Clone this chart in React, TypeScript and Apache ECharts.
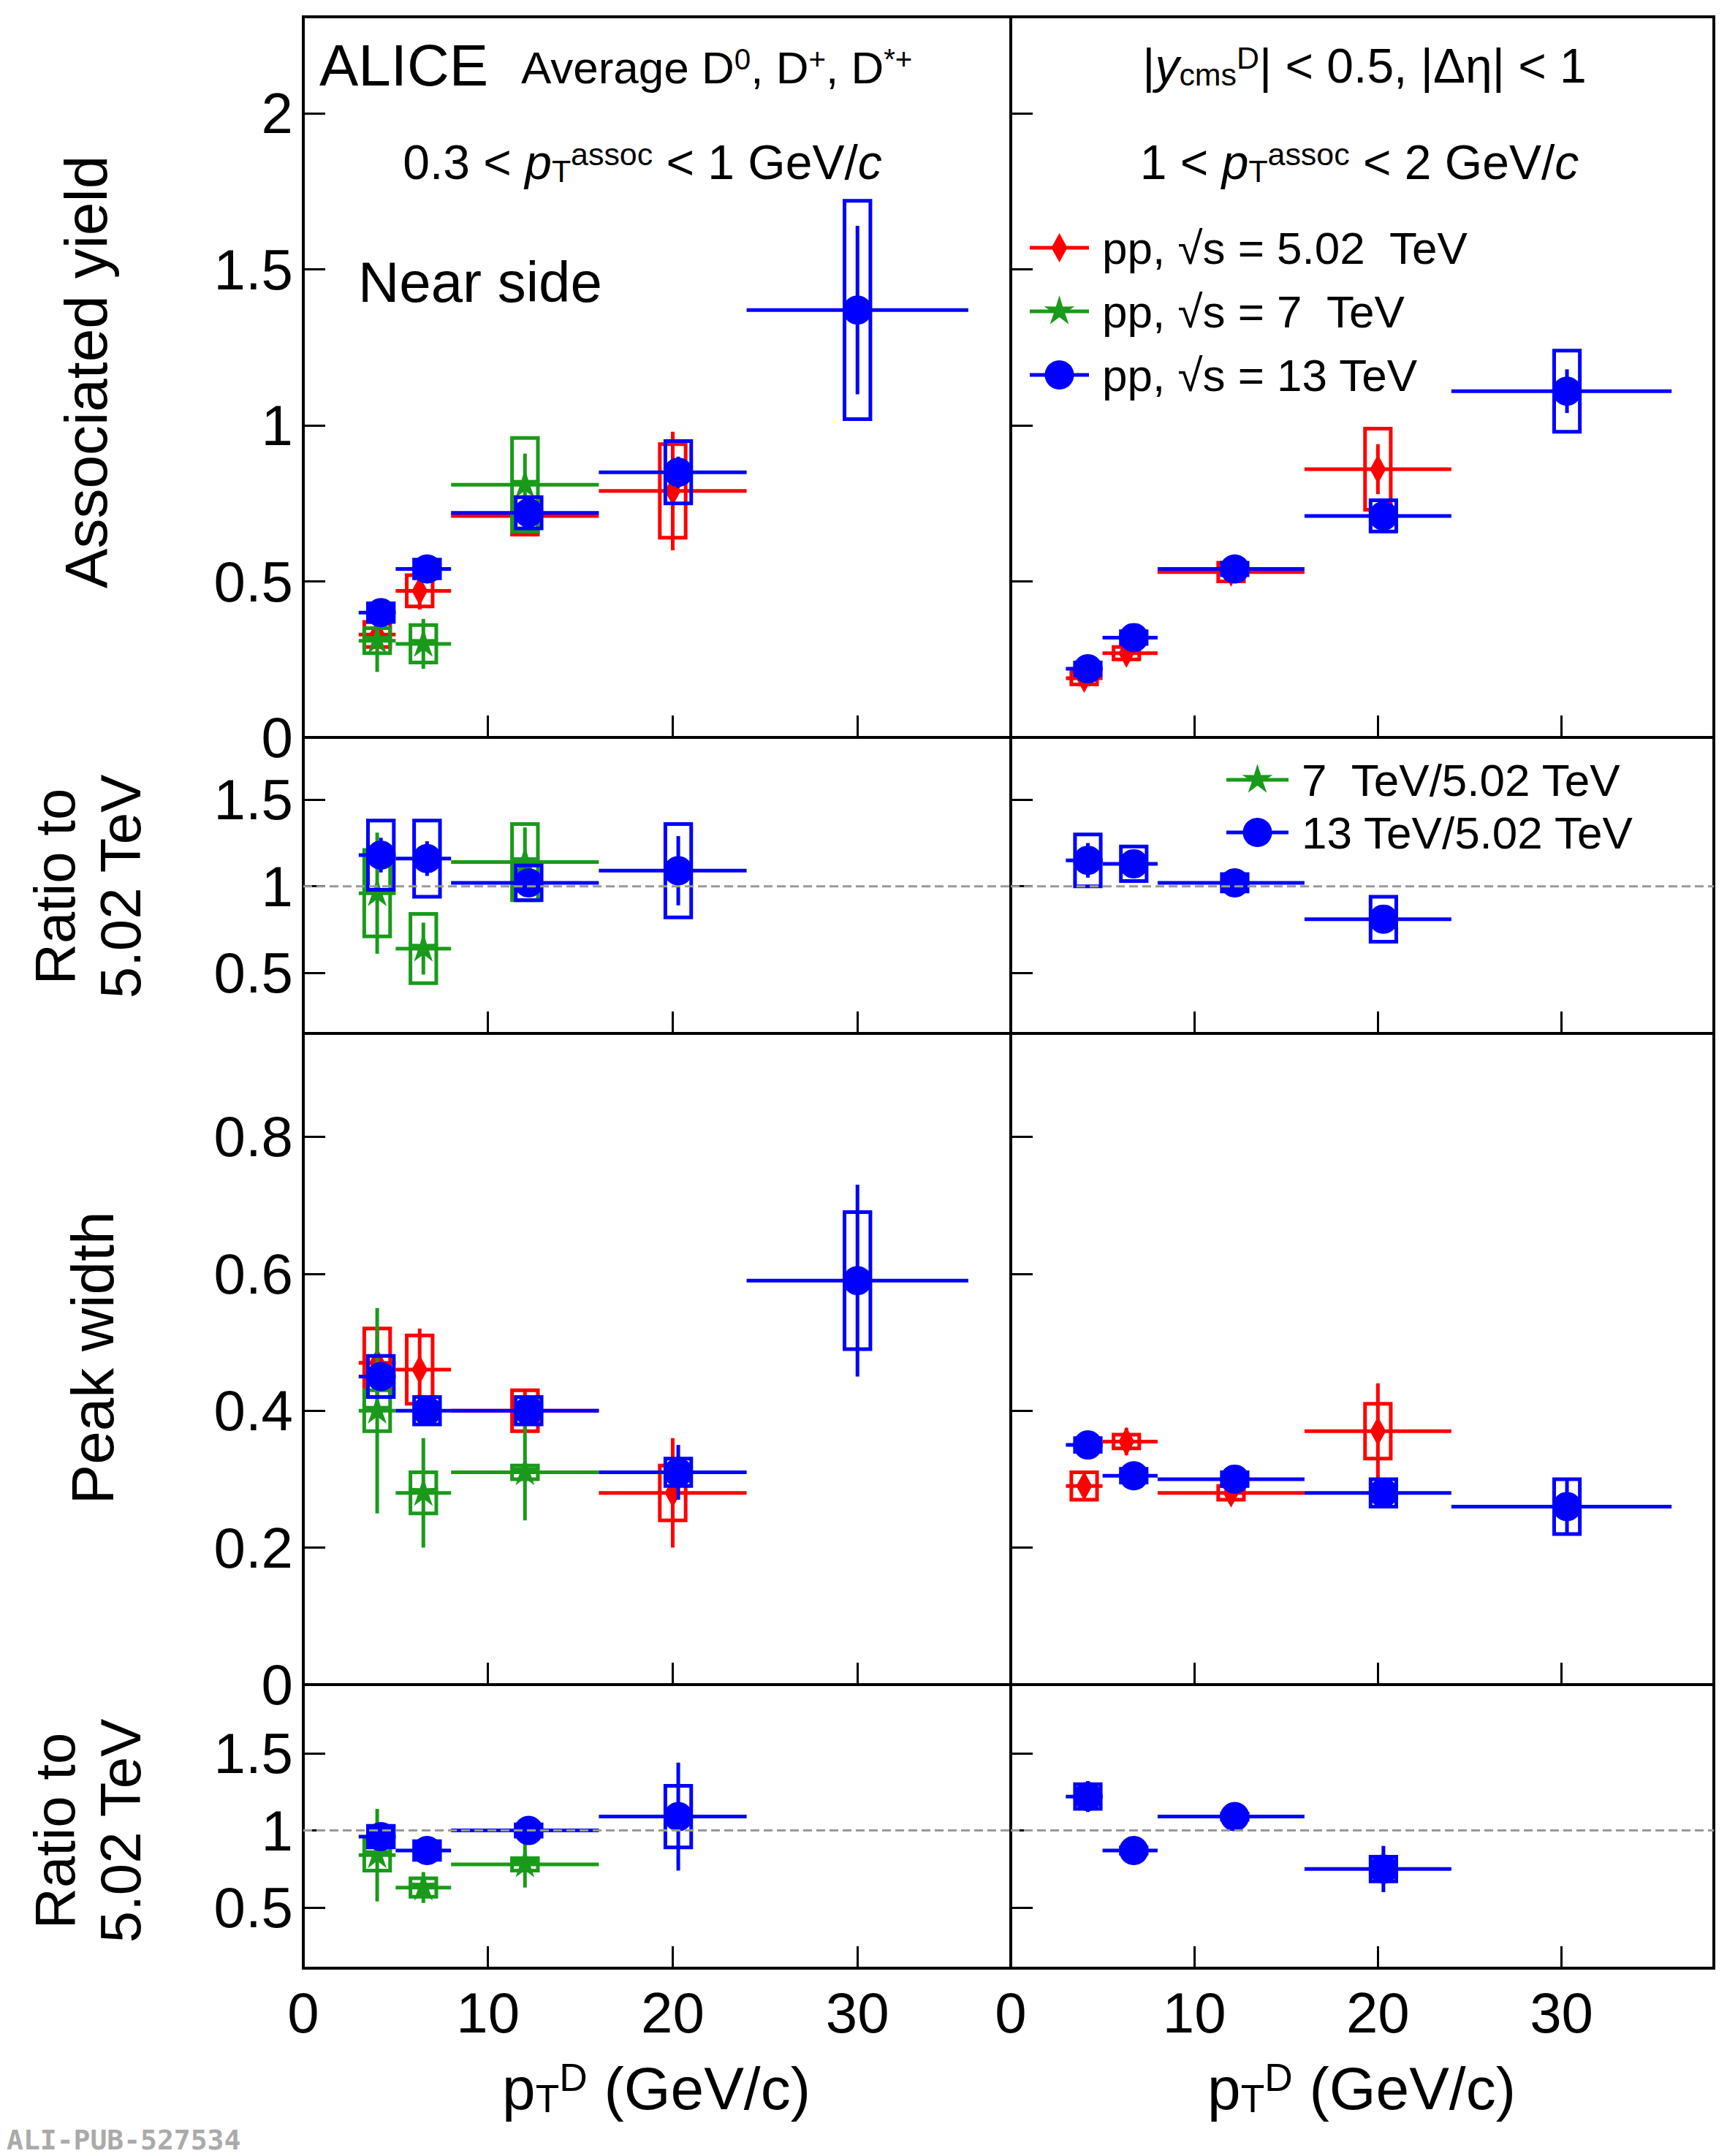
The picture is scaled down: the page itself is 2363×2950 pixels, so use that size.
import { useEffect, useRef } from 'react'
import * as echarts from 'echarts'

// point: [x, xlo, xhi, y, stat, sys]
const yieldL_502 = [[4, 3, 5, 0.33, 0.03, 0.04], [6.3, 5, 8, 0.47, 0.06, 0.05], [12, 8, 16, 0.71, 0.05, 0.06], [20, 16, 24, 0.79, 0.19, 0.15]]
const yieldL_7 = [[4, 3, 5, 0.31, 0.1, 0.04], [6.5, 5, 8, 0.30, 0.08, 0.06], [12, 8, 16, 0.81, 0.1, 0.15]]
const yieldL_13 = [[4.2, 3, 5, 0.40, 0.03, 0.03], [6.7, 5, 8, 0.54, 0.02, 0.03], [12.2, 8, 16, 0.72, 0.03, 0.05], [20.3, 16, 24, 0.85, 0.05, 0.1], [30, 24, 36, 1.37, 0.27, 0.35]]
const yieldR_502 = [[4, 3, 5, 0.19, 0.02, 0.02], [6.3, 5, 8, 0.27, 0.02, 0.02], [12, 8, 16, 0.53, 0.02, 0.03], [20, 16, 24, 0.86, 0.08, 0.13]]
const yieldR_13 = [[4.2, 3, 5, 0.22, 0.02, 0.02], [6.7, 5, 8, 0.32, 0.02, 0.02], [12.2, 8, 16, 0.54, 0.02, 0.02], [20.3, 16, 24, 0.71, 0.03, 0.05], [30.3, 24, 36, 1.11, 0.07, 0.13]]
const ratioYL_7 = [[4, 3, 5, 0.96, 0.35, 0.25], [6.5, 5, 8, 0.64, 0.15, 0.2], [12, 8, 16, 1.14, 0.2, 0.22]]
const ratioYL_13 = [[4.2, 3, 5, 1.18, 0.1, 0.2], [6.7, 5, 8, 1.16, 0.1, 0.22], [12.2, 8, 16, 1.02, 0.05, 0.1], [20.3, 16, 24, 1.09, 0.2, 0.27]]
const ratioYR_13 = [[4.2, 3, 5, 1.15, 0.1, 0.15], [6.7, 5, 8, 1.13, 0.05, 0.1], [12.2, 8, 16, 1.02, 0.04, 0.05], [20.3, 16, 24, 0.81, 0.08, 0.13]]
const widthL_502 = [[4, 3, 5, 0.47, 0.05, 0.05], [6.3, 5, 8, 0.46, 0.06, 0.05], [12, 8, 16, 0.40, 0.03, 0.03], [20, 16, 24, 0.28, 0.08, 0.04]]
const widthL_7 = [[4, 3, 5, 0.40, 0.15, 0.03], [6.5, 5, 8, 0.28, 0.08, 0.03], [12, 8, 16, 0.31, 0.07, 0.01]]
const widthL_13 = [[4.2, 3, 5, 0.45, 0.02, 0.03], [6.7, 5, 8, 0.40, 0.02, 0.02], [12.2, 8, 16, 0.40, 0.02, 0.02], [20.3, 16, 24, 0.31, 0.04, 0.02], [30, 24, 36, 0.59, 0.14, 0.10]]
const widthR_502 = [[4, 3, 5, 0.29, 0.02, 0.02], [6.3, 5, 8, 0.355, 0.02, 0.01], [12, 8, 16, 0.28, 0.01, 0.01], [20, 16, 24, 0.37, 0.07, 0.04]]
const widthR_13 = [[4.2, 3, 5, 0.35, 0.02, 0.01], [6.7, 5, 8, 0.305, 0.01, 0.01], [12.2, 8, 16, 0.30, 0.01, 0.01], [20.3, 16, 24, 0.28, 0.02, 0.02], [30.3, 24, 36, 0.26, 0.04, 0.04]]
const ratioWL_7 = [[4, 3, 5, 0.84, 0.3, 0.1], [6.5, 5, 8, 0.63, 0.1, 0.06], [12, 8, 16, 0.78, 0.15, 0.04]]
const ratioWL_13 = [[4.2, 3, 5, 0.96, 0.05, 0.07], [6.7, 5, 8, 0.87, 0.05, 0.06], [12.2, 8, 16, 1.0, 0.04, 0.04], [20.3, 16, 24, 1.09, 0.35, 0.2]]
const ratioWR_13 = [[4.2, 3, 5, 1.22, 0.1, 0.08], [6.7, 5, 8, 0.87, 0.03, 0.02], [12.2, 8, 16, 1.09, 0.04, 0.02], [20.3, 16, 24, 0.75, 0.15, 0.08]]

const xTicks = [0, 10, 20, 30]
const rowY = [
  { min: 0, max: 2.31, ticks: [0, 0.5, 1, 1.5, 2] },
  { min: 0.15, max: 1.86, ticks: [0.5, 1, 1.5] },
  { min: 0, max: 0.951, ticks: [0, 0.2, 0.4, 0.6, 0.8] },
  { min: 0.107, max: 1.946, ticks: [0.5, 1, 1.5] },
]

const RED = '#ff0000'
const GREEN = '#1a9a1a'
const BLUE = '#0000ff'
const FONT = 'Liberation Sans'

const colsX = [{ left: 415, width: 968 }, { left: 1383, width: 962 }]
const rowsY = [{ top: 23, height: 986 }, { top: 1009, height: 405 }, { top: 1414, height: 891 }, { top: 2305, height: 388 }]

function marker(kind: string, cx: number, cy: number, color: string) {
  if (kind === 'circle') return { type: 'circle', shape: { cx, cy, r: 20 }, style: { fill: color } }
  if (kind === 'diamond') {
    return { type: 'polygon', shape: { points: [[cx, cy - 20], [cx + 11, cy], [cx, cy + 20], [cx - 11, cy]] }, style: { fill: color } }
  }
  const pts: number[][] = []
  for (let i = 0; i < 10; i++) {
    const r = i % 2 === 0 ? 22 : 8
    const a = -Math.PI / 2 + (i * Math.PI) / 5
    pts.push([cx + r * Math.cos(a), cy + r * Math.sin(a)])
  }
  return { type: 'polygon', shape: { points: pts }, style: { fill: color } }
}

function pointSeries(data: number[][], idx: number, color: string, kind: string) {
  return {
    type: 'custom',
    xAxisIndex: idx,
    yAxisIndex: idx,
    data,
    clip: true,
    renderItem: (_p: any, api: any) => {
      const x = api.value(0), xlo = api.value(1), xhi = api.value(2)
      const y = api.value(3), st = api.value(4), sy = api.value(5)
      const c = api.coord([x, y])
      const l = api.coord([xlo, y]), r = api.coord([xhi, y])
      const t = api.coord([x, y + st]), b = api.coord([x, y - st])
      const bl = api.coord([x - 0.7, y - sy]), tr = api.coord([x + 0.7, y + sy])
      const ls = { stroke: color, lineWidth: 5 }
      return {
        type: 'group',
        children: [
          { type: 'line', shape: { x1: l[0], y1: l[1], x2: r[0], y2: r[1] }, style: ls },
          { type: 'line', shape: { x1: t[0], y1: t[1], x2: b[0], y2: b[1] }, style: ls },
          { type: 'rect', shape: { x: bl[0], y: tr[1], width: tr[0] - bl[0], height: bl[1] - tr[1] }, style: { fill: 'none', stroke: color, lineWidth: 5 } },
          marker(kind, c[0], c[1], color),
        ],
      }
    },
  }
}

const supTxt = (s: number) => ({ fontSize: s * 0.65, verticalAlign: 'top', lineHeight: s * 0.9, fontFamily: FONT })

function App() {
  const ref = useRef<HTMLDivElement>(null)
  useEffect(() => {
    document.body.style.margin = '0'
    if (!ref.current) return
    const chart = echarts.init(ref.current, null, { renderer: 'svg' })
    const grid: any[] = [], xAxis: any[] = [], yAxis: any[] = []
    for (let r = 0; r < 4; r++) {
      for (let c = 0; c < 2; c++) {
        grid.push({ left: colsX[c].left, width: colsX[c].width, top: rowsY[r].top, height: rowsY[r].height, show: true, borderColor: '#000', borderWidth: 4, backgroundColor: 'transparent' })
        const gi = grid.length - 1
        xAxis.push({
          type: 'value', gridIndex: gi, min: 0, max: 38.3,
          axisLine: { show: false }, splitLine: { show: false },
          axisTick: { inside: true, length: 30, lineStyle: { width: 3, color: '#000' }, customValues: xTicks },
          axisLabel: { show: r === 3, customValues: xTicks, fontSize: 78, fontFamily: FONT, color: '#000', margin: 22 },
        })
        yAxis.push({
          type: 'value', gridIndex: gi, min: rowY[r].min, max: rowY[r].max,
          axisLine: { show: false }, splitLine: { show: false },
          axisTick: { inside: true, length: 30, lineStyle: { width: 3, color: '#000' }, customValues: rowY[r].ticks },
          axisLabel: { show: c === 0, customValues: rowY[r].ticks, fontSize: 78, fontFamily: FONT, color: '#000', margin: 14 },
        })
      }
    }
    const dash = (idx: number) => ({
      type: 'line', xAxisIndex: idx, yAxisIndex: idx, data: [[0, 1], [38.3, 1]], symbol: 'none',
      lineStyle: { color: '#999', type: 'dashed', width: 3 }, silent: true,
    })
    const series: any[] = [
      dash(2), dash(3), dash(6), dash(7),
      pointSeries(yieldL_502, 0, RED, 'diamond'), pointSeries(yieldL_7, 0, GREEN, 'star'), pointSeries(yieldL_13, 0, BLUE, 'circle'),
      pointSeries(yieldR_502, 1, RED, 'diamond'), pointSeries(yieldR_13, 1, BLUE, 'circle'),
      pointSeries(ratioYL_7, 2, GREEN, 'star'), pointSeries(ratioYL_13, 2, BLUE, 'circle'),
      pointSeries(ratioYR_13, 3, BLUE, 'circle'),
      pointSeries(widthL_502, 4, RED, 'diamond'), pointSeries(widthL_7, 4, GREEN, 'star'), pointSeries(widthL_13, 4, BLUE, 'circle'),
      pointSeries(widthR_502, 5, RED, 'diamond'), pointSeries(widthR_13, 5, BLUE, 'circle'),
      pointSeries(ratioWL_7, 6, GREEN, 'star'), pointSeries(ratioWL_13, 6, BLUE, 'circle'),
      pointSeries(ratioWR_13, 7, BLUE, 'circle'),
    ]
    const txt = (x: number, y: number, text: string, size: number, opts: any = {}) => ({
      type: 'text', x, y, rotation: opts.rotation || 0,
      style: {
        text, fontSize: size, fontFamily: FONT, fill: opts.fill || '#000', align: opts.align || 'left', verticalAlign: 'middle',
        rich: {
          sup: supTxt(size), sub: { fontSize: size * 0.65, verticalAlign: 'bottom', lineHeight: size * 0.9, fontFamily: FONT },
          i: { fontStyle: 'italic', fontSize: size, fontFamily: FONT },
        },
        lineHeight: opts.lineHeight,
      },
    })
    const legItem = (x1: number, x2: number, y: number, color: string, kind: string, label: string, size: number) => ([
      { type: 'line', shape: { x1, y1: y, x2, y2: y }, style: { stroke: color, lineWidth: 5 } },
      { ...marker(kind, (x1 + x2) / 2, y, color) },
      txt(x2 + 18, y, label, size),
    ])
    const graphic: any[] = [
      txt(437, 89, 'ALICE', 80),
      txt(713, 92, 'Average D{sup|0}, D{sup|+}, D{sup|*+}', 62),
      txt(879, 222, '0.3 < {i|p}{sub|T}{sup|assoc} < 1 GeV/{i|c}', 66, { align: 'center' }),
      txt(490, 386, 'Near side', 78),
      txt(1867, 90, '|{i|y}{sub|cms}{sup|D}| < 0.5, |Δη| < 1', 66, { align: 'center' }),
      txt(1860, 222, '1 < {i|p}{sub|T}{sup|assoc} < 2 GeV/{i|c}', 66, { align: 'center' }),
      ...legItem(1409, 1490, 339, RED, 'diamond', 'pp, √s = 5.02  TeV', 62),
      ...legItem(1409, 1490, 426, GREEN, 'star', 'pp, √s = 7  TeV', 62),
      ...legItem(1409, 1490, 513, BLUE, 'circle', 'pp, √s = 13 TeV', 62),
      ...legItem(1678, 1763, 1067, GREEN, 'star', '7  TeV/5.02 TeV', 62),
      ...legItem(1678, 1763, 1139, BLUE, 'circle', '13 TeV/5.02 TeV', 62),
      txt(117, 509, 'Associated yield', 82, { rotation: Math.PI / 2, align: 'center' }),
      txt(120, 1213, 'Ratio to\n5.02 TeV', 78, { rotation: Math.PI / 2, align: 'center', lineHeight: 90 }),
      txt(126, 1858, 'Peak width', 82, { rotation: Math.PI / 2, align: 'center' }),
      txt(120, 2505, 'Ratio to\n5.02 TeV', 78, { rotation: Math.PI / 2, align: 'center', lineHeight: 90 }),
      txt(898, 2857, 'p{sub|T}{sup|D} (GeV/c)', 82, { align: 'center' }),
      txt(1863, 2857, 'p{sub|T}{sup|D} (GeV/c)', 82, { align: 'center' }),
      { type: 'text', x: 9, y: 2928, style: { text: 'ALI-PUB-527534', fontSize: 38, fontFamily: 'DejaVu Sans Mono', fontWeight: 'bold', fill: '#aaa', verticalAlign: 'middle' } },
    ]
    chart.setOption({ animation: false, backgroundColor: '#fff', grid, xAxis, yAxis, series, graphic })
    return () => chart.dispose()
  }, [])
  return <div ref={ref} style={{ width: 2363, height: 2950 }} />
}

export default App
